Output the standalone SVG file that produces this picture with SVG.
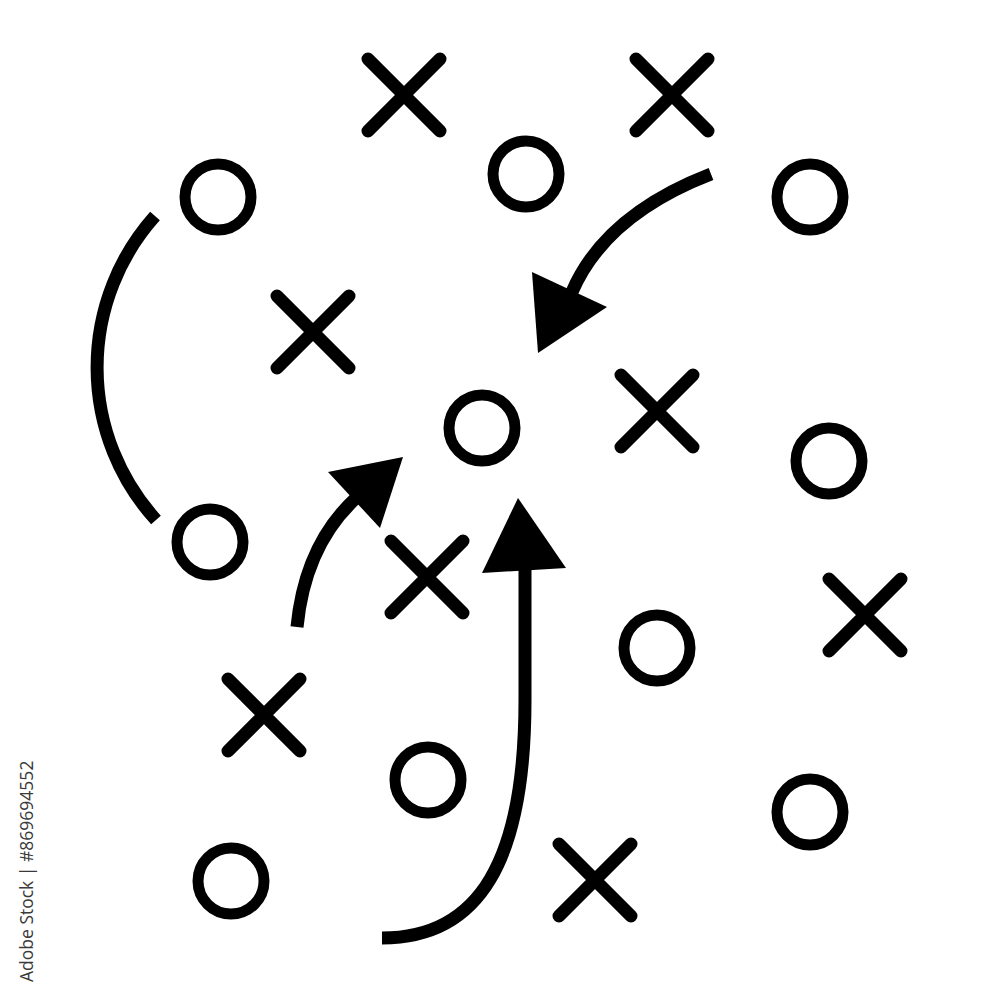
<svg xmlns="http://www.w3.org/2000/svg" width="1000" height="1000" viewBox="0 0 1000 1000">
<style>
.o{fill:none;stroke:#000;stroke-width:11}
.x{fill:none;stroke:#000;stroke-width:13;stroke-linecap:round}
.ln{fill:none;stroke:#000;stroke-width:13;stroke-linecap:butt}
.hd{fill:#000}
.id{font-family:"Open Sans","Liberation Sans",sans-serif;font-size:17.5px;fill:#3a3a3a}
</style>
<defs>
<circle id="oc" r="33" class="o"/>
<path id="xc" d="M-36,-36L36,36M36,-36L-36,36" class="x"/>
</defs>
<rect width="1000" height="1000" fill="#fff"/>
<g id="o1"><use href="#oc" x="218" y="197"/></g>
<g id="o2"><use href="#oc" x="526" y="174"/></g>
<g id="o3"><use href="#oc" x="810" y="197"/></g>
<g id="o4"><use href="#oc" x="482" y="428"/></g>
<g id="o5"><use href="#oc" x="829" y="461"/></g>
<g id="o6"><use href="#oc" x="210" y="542"/></g>
<g id="o7"><use href="#oc" x="657" y="648"/></g>
<g id="o8"><use href="#oc" x="428" y="780"/></g>
<g id="o9"><use href="#oc" x="810" y="812"/></g>
<g id="o10"><use href="#oc" x="231" y="881"/></g>
<g id="x1"><use href="#xc" x="404" y="95"/></g>
<g id="x2"><use href="#xc" x="672" y="95"/></g>
<g id="x3"><use href="#xc" x="313" y="332"/></g>
<g id="x4"><use href="#xc" x="657" y="411"/></g>
<g id="x5"><use href="#xc" x="427" y="577"/></g>
<g id="x6"><use href="#xc" x="865" y="615"/></g>
<g id="x7"><use href="#xc" x="264" y="715"/></g>
<g id="x8"><use href="#xc" x="595" y="880"/></g>
<g id="connectors">
<path class="ln" d="M155,216 A227,227 0 0 0 156,520"/>
<path class="ln" d="M711,174 Q605,215 572,292"/>
<polygon class="hd" points="532,272 607,307 538,353"/>
<path class="ln" d="M297,627 Q305,545 356,498"/>
<polygon class="hd" points="328,472 403,457 380,528"/>
<path class="ln" d="M382,938 C480,938 525,860 525,700 L525,568"/>
<polygon class="hd" points="518,498 482,573 566,568"/>
</g>
<text class="id" transform="translate(33,982) rotate(-90)">Adobe Stock | #869694552</text>
</svg>
